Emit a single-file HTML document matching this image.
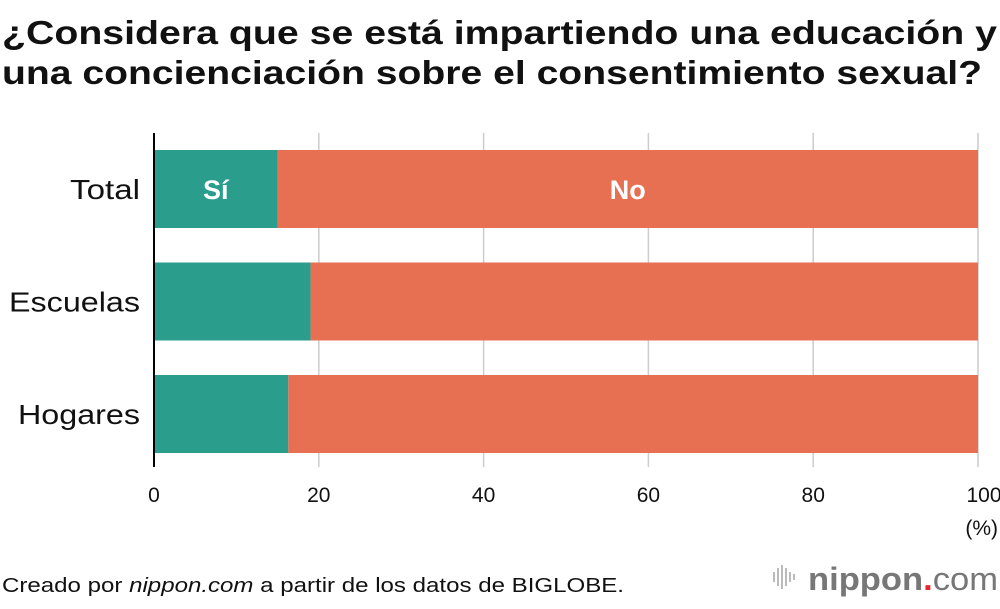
<!DOCTYPE html>
<html><head><meta charset="utf-8"><style>
body{margin:0;background:#fff;width:1000px;height:604px;overflow:hidden;font-family:"Liberation Sans",sans-serif}
</style></head><body>
<svg width="1000" height="604" xmlns="http://www.w3.org/2000/svg" font-family="Liberation Sans, sans-serif">
<text x="2" y="44" font-size="33" font-weight="bold" fill="#111" textLength="995" lengthAdjust="spacingAndGlyphs">¿Considera que se está impartiendo una educación y</text>
<text x="2" y="84" font-size="33" font-weight="bold" fill="#111" textLength="980" lengthAdjust="spacingAndGlyphs">una concienciación sobre el consentimiento sexual?</text>
<g id="grid"></g>
<g id="bars"></g>
<g id="labels"></g>
<text x="998" y="535" font-size="21" text-anchor="end" fill="#111">(%)</text>
<text x="2" y="592" font-size="20" fill="#111" textLength="622" lengthAdjust="spacingAndGlyphs">Creado por <tspan font-style="italic">nippon.com</tspan> a partir de los datos de BIGLOBE.</text>
<g>
<rect x="773" y="572" width="2" height="10" fill="#bbb"/><rect x="777" y="568" width="2" height="18" fill="#bbb"/><rect x="781" y="565" width="2" height="24" fill="#bbb"/><rect x="785" y="568" width="2" height="18" fill="#bbb"/><rect x="789" y="572" width="2" height="10" fill="#bbb"/><rect x="793" y="574" width="2" height="6" fill="#bbb"/>
<text x="808" y="590" font-size="32" font-weight="bold" fill="#777" textLength="190" lengthAdjust="spacingAndGlyphs">nippon<tspan fill="#e8262c">.</tspan><tspan font-weight="normal">com</tspan></text>
</g>
</svg>
<script>
const categories=["Total","Escuelas","Hogares"];
const siValues=[15,19,16.3];
const noValues=[85,81,83.7];
const ticks=[0,20,40,60,80,100];
const NS="http://www.w3.org/2000/svg";
const x=v=>154+v*8.24;
const y0=150,step=112.5,bh=78;
const labelW={"Total":70,"Escuelas":131,"Hogares":122};
function mk(tag,attrs,parent){const e=document.createElementNS(NS,tag);for(const k in attrs)e.setAttribute(k,attrs[k]);document.getElementById(parent).appendChild(e);return e;}
ticks.forEach((t,i)=>{
 if(t>0){const l=mk('line',{x1:x(t),x2:x(t),y1:133,y2:467,stroke:'#ccc','stroke-width':1.5},'grid');
 
 }
 const tx=mk('text',{x:x(t)+(t===100?6:0),y:502,'font-size':21,'text-anchor':'middle',fill:'#111'},'labels');
 tx.textContent=t;
 
 
});
categories.forEach((c,i)=>{
 const y=y0+i*step;
 const a=mk('rect',{x:x(0),y:y,width:x(siValues[i])-x(0),height:bh,fill:'#2a9d8c'},'bars');
 
 
 const b=mk('rect',{x:x(siValues[i]),y:y,width:x(siValues[i]+noValues[i])-x(siValues[i]),height:bh,fill:'#e77053'},'bars');
 
 
 const t=mk('text',{x:140-(labelW[c]||100),y:y+bh/2+10,'font-size':28,fill:'#111',textLength:labelW[c]||100,lengthAdjust:'spacingAndGlyphs'},'labels');
 t.textContent=c;
 
 
 if(i===0){
  const s=mk('text',{x:(x(0)+x(siValues[i]))/2,y:y+bh/2+10,'font-size':27,'font-weight':'bold','text-anchor':'middle',fill:'#fff'},'labels');
  s.textContent='Sí';
  
  
  const n=mk('text',{x:(x(siValues[i])+x(100))/2,y:y+bh/2+10,'font-size':27,'font-weight':'bold','text-anchor':'middle',fill:'#fff'},'labels');
  n.textContent='No';
  
  
 }
});
const ax=mk('line',{x1:x(0),x2:x(0),y1:133,y2:467,stroke:'#000','stroke-width':2},'labels');


</script>
</body></html>
